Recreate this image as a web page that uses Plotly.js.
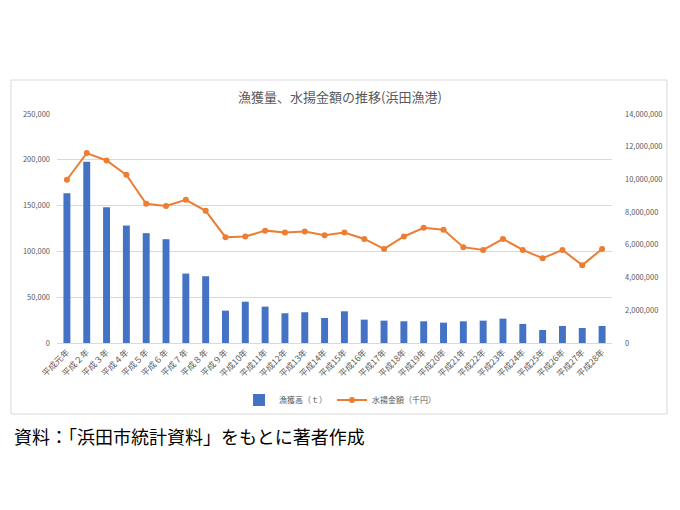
<!DOCTYPE html>
<html>
<head>
<meta charset="utf-8">
<script src="https://cdn.plot.ly/plotly-3.0.1.min.js"></script>
<style>html,body{margin:0;padding:0;background:#fff;}#chart{width:680px;height:510px;}</style>
</head>
<body>
<div id="chart"></div>
<script>
const years = ["平成元年","平成２年","平成３年","平成４年","平成５年","平成６年","平成７年","平成８年","平成９年","平成10年","平成11年","平成12年","平成13年","平成14年","平成15年","平成16年","平成17年","平成18年","平成19年","平成20年","平成21年","平成22年","平成23年","平成24年","平成25年","平成26年","平成27年","平成28年"];
const catch_t = [163600,197900,148300,128200,119900,113300,75800,72900,35300,45100,39700,32500,33600,27300,34600,25500,24400,23700,23700,22200,23700,24400,26600,20800,14200,18600,16400,18600];
const landing_value = [9980000,11610000,11160000,10280000,8510000,8380000,8750000,8080000,6470000,6510000,6870000,6750000,6810000,6590000,6750000,6360000,5750000,6510000,7040000,6920000,5860000,5690000,6360000,5690000,5180000,5690000,4760000,5750000];
const seriesNames = ["漁獲高（ｔ）","水揚金額（千円）"];
const titleText = "漁獲量、水揚金額の推移(浜田漁港)";
const captionText = "資料：「浜田市統計資料」をもとに著者作成";

const F = '"Noto Sans CJK JP", "Noto Sans", sans-serif';
const L = 57, R = 612, T = 114, B = 343;
const W = R - L, H = B - T;
const px = x => (x - L) / W;
const py = y => (B - y) / H;

const traces = [
  {type:'bar', x: years, y: catch_t, name: seriesNames[0], marker:{color:'#4472C4'}, yaxis:'y'},
  {type:'scatter', mode:'lines+markers', x: years, y: landing_value, name: seriesNames[1], yaxis:'y2',
   line:{color:'#ED7D31', width:2}, marker:{color:'#ED7D31', size:6}}
];

const layout = {
  width:680, height:510,
  margin:{l:L, r:680-R, t:T, b:510-B},
  paper_bgcolor:'#fff', plot_bgcolor:'#fff',
  font:{family:F, color:'#595959', size:8},
  title:{text:titleText, font:{family:F, size:13, color:'#595959'}, x:0.5, xref:'container', y:1-97/510, yref:'container', yanchor:'middle'},
  bargap:0.65,
  showlegend:true,
  legend:{orientation:'h', x:px(340), xanchor:'center', y:py(400), yanchor:'middle', font:{family:F, size:8, color:'#595959'}, bgcolor:'rgba(0,0,0,0)'},
  xaxis:{type:'category', range:[-0.5, years.length - 0.5], automargin:false, tickangle:-45, tickfont:{family:F, size:8.5, color:'#595959'}, showgrid:false, showline:true, linecolor:'#d9d9d9', linewidth:1, ticks:'', fixedrange:true},
  yaxis:{range:[0,250000], automargin:false, dtick:50000, tickformat:',d', showgrid:true, gridcolor:'#d9d9d9', gridwidth:1, zeroline:false, showline:false, ticks:'', tickfont:{family:F, size:7.5, color:'#595959'}, ticklabelstandoff:6},
  yaxis2:{range:[0,14000000], automargin:false, dtick:2000000, tickformat:',d', overlaying:'y', side:'right', showgrid:false, zeroline:false, showline:false, ticks:'', tickfont:{family:F, size:7.5, color:'#595959'}, ticklabelstandoff:12},
  shapes:[
    {type:'rect', xref:'paper', yref:'paper', x0:px(11), x1:px(667), y0:py(414), y1:py(80), line:{color:'#d9d9d9', width:1}, fillcolor:'rgba(0,0,0,0)', layer:'below'}
  ],
  annotations:[
    {text:captionText, xref:'paper', yref:'paper', x:px(12), y:py(436), xanchor:'left', yanchor:'middle', showarrow:false, font:{family:F, size:18, color:'#000'}}
  ]
};

Plotly.newPlot('chart', traces, layout, {displayModeBar:false, staticPlot:true});
</script>
</body>
</html>
